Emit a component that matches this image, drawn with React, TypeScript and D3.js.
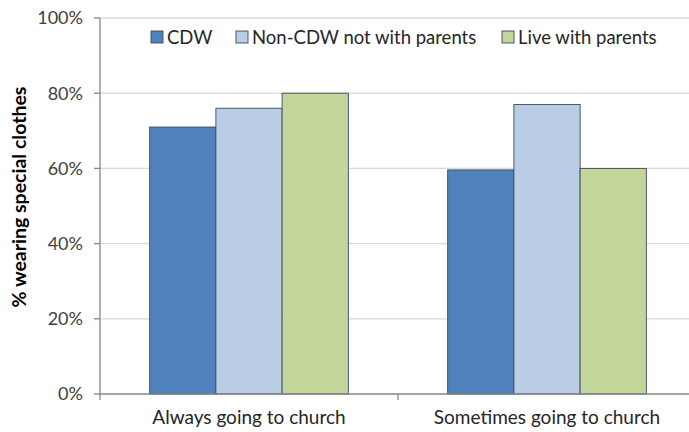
import React from "react";
import * as d3 from "d3";

// Groups along the x axis
const categories = ["Always going to church", "Sometimes going to church"];
// Series shown as bars in each group (percent wearing special clothes)
const seriesNames = ["CDW", "Non-CDW not with parents", "Live with parents"];
const cdwValues = [71, 59.6];
const nonCdwValues = [76, 77];
const liveWithParentsValues = [80, 60];
const yTicks = [0, 20, 40, 60, 80, 100];

const seriesColors = ["#4F81BD", "#B9CDE5", "#C3D69B"];

const W = 689;
const H = 432;
const left = 100;
const right = 696;
const top = 18;
const bottom = 394;
const font = "Lato, 'Open Sans', sans-serif";

export default function App() {
  const seriesValues = [cdwValues, nonCdwValues, liveWithParentsValues];
  const x = d3.scaleBand<string>().domain(categories).range([left, right]).paddingInner(0).paddingOuter(0);
  const inner = d3
    .scaleBand<number>()
    .domain(d3.range(seriesNames.length))
    .range([0, x.bandwidth()])
    .paddingOuter(0.75)
    .paddingInner(0);
  const y = d3.scaleLinear().domain([0, 100]).range([bottom, top]);

  const legendX = [151, 236, 502];

  return (
    <svg width={W} height={H} style={{ position: "absolute", left: 0, top: 0, background: "#fff" }}>
      {/* gridlines */}
      {yTicks.filter((t) => t > 0).map((t) => (
        <line key={t} x1={left} x2={W} y1={y(t)} y2={y(t)} stroke="#D9D9D9" strokeWidth={1.3} />
      ))}
      {/* bars */}
      {categories.map((c, ci) =>
        seriesValues.map((vals, si) => (
          <rect
            key={`${ci}-${si}`}
            x={(x(c) as number) + (inner(si) as number)}
            y={y(vals[ci])}
            width={inner.bandwidth()}
            height={bottom - y(vals[ci])}
            fill={seriesColors[si]}
            stroke="#3F4A55"
            strokeWidth={0.9}
          />
        ))
      )}
      {/* y axis */}
      <line x1={left} x2={left} y1={top} y2={bottom} stroke="#868686" strokeWidth={1.3} />
      {yTicks.map((t) => (
        <g key={t}>
          <line x1={left - 6} x2={left} y1={y(t)} y2={y(t)} stroke="#868686" strokeWidth={1.3} />
          <text
            x={83}
            y={y(t)}
            dy="0.35em"
            textAnchor="end"
            fontFamily={font}
            fontSize={18}
            fill="#404040"
          >
            {t}%
          </text>
        </g>
      ))}
      {/* x axis */}
      <line x1={left} x2={W} y1={bottom} y2={bottom} stroke="#868686" strokeWidth={1.5} />
      {[left, left + x.bandwidth(), right].map((v, i) => (
        <line key={i} x1={v} x2={v} y1={bottom} y2={bottom + 6} stroke="#868686" strokeWidth={1.3} />
      ))}
      {categories.map((c) => (
        <text
          key={c}
          x={(x(c) as number) + x.bandwidth() / 2}
          y={424}
          textAnchor="middle"
          fontFamily={font}
          fontSize={19}
          fill="#262626"
        >
          {c}
        </text>
      ))}
      {/* y axis title */}
      <text
        transform={`translate(26,197) rotate(-90)`}
        textAnchor="middle"
        fontFamily={font}
        fontWeight="bold"
        fontSize={19.5}
        fill="#000"
      >
        % wearing special clothes
      </text>
      {/* legend */}
      {seriesNames.map((n, i) => (
        <g key={n}>
          <rect x={legendX[i]} y={31} width={12} height={12} fill={seriesColors[i]} stroke="#3F4A55" strokeWidth={0.9} />
          <text x={legendX[i] + 16} y={43.5} fontFamily={font} fontSize={18.5} fill="#262626">
            {n}
          </text>
        </g>
      ))}
    </svg>
  );
}
